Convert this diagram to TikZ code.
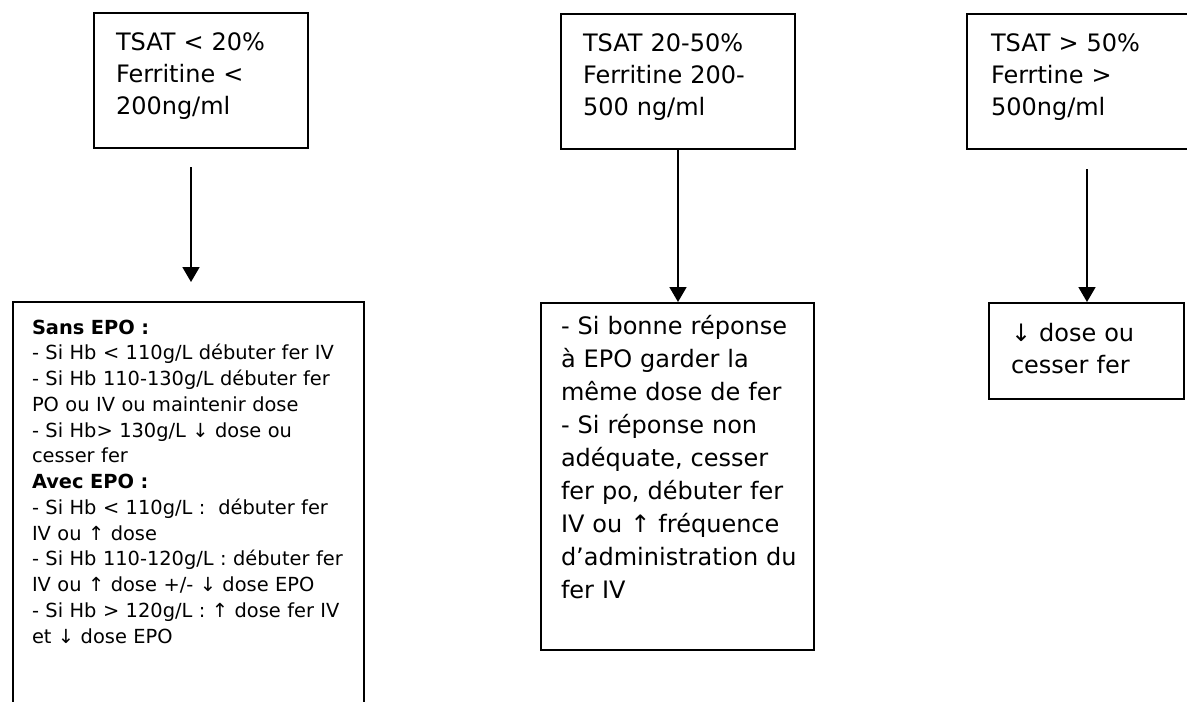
\documentclass[tikz,border=0pt]{standalone}
\usepackage{fontspec}
\setmainfont{DejaVu Sans}
\usetikzlibrary{arrows.meta,positioning}

\begin{document}
\begin{tikzpicture}[x=1pt, y=-1pt, >={Triangle[width=17pt,length=15pt]},
  box/.style={draw, line width=2pt, anchor=north west, inner ysep=0pt, align=left, font={\fontsize{24}{32}\selectfont\hyphenpenalty=10000\exhyphenpenalty=10000\relax}},
  link/.style={->, line width=1.8pt}]
  \useasboundingbox (0,0) rectangle (1187,702);
  % criteria
  \node[box, inner xsep=22pt, text width=170pt, text height=37pt, text depth=98pt] (lowcrit) at (93,12) {TSAT < 20\%\\Ferritine <\\200ng/ml};
  \node[box, inner xsep=22pt, text width=190pt, text height=37pt, text depth=98pt] (midcrit) at (560,13) {TSAT 20-50\%\\Ferritine 200-\\500 ng/ml};
  \node[box, inner xsep=24pt, text width=192pt, text height=37pt, text depth=98pt] (highcrit) at (966,13) {TSAT > 50\%\\Ferrtine >\\500ng/ml};
  % actions
  \node[box, inner xsep=19pt, text width=313pt, text height=32pt, text depth=387pt, font={\fontsize{19.4}{25.75}\selectfont\hyphenpenalty=10000\exhyphenpenalty=10000\relax}] (lowact) at (12,301) {\textbf{Sans EPO :}\\- Si Hb < 110g/L débuter~fer~IV\\- Si Hb 110-130g/L débuter~fer\\PO ou IV ou maintenir~dose\\- Si Hb> 130g/L ↓ dose~ou\\cesser fer\\\textbf{Avec EPO :}\\- Si Hb < 110g/L :\ \ débuter~fer\\IV ou ↑ dose\\- Si Hb 110-120g/L~:~débuter~fer\\IV ou ↑ dose +/- ↓ dose~EPO\\- Si Hb > 120g/L : ↑ dose~fer~IV\\et ↓ dose EPO};
  \node[box, inner xsep=20pt, text width=233pt, text height=31pt, text depth=316pt, font={\fontsize{24}{33}\selectfont\hyphenpenalty=10000\exhyphenpenalty=10000\relax}] (midact) at (540,302) {- Si bonne réponse\\à EPO garder la\\même dose de fer\\- Si réponse non\\adéquate, cesser\\fer po, débuter fer\\IV ou ↑ fréquence\\d’administration~du\\fer IV};
  \node[box, inner xsep=22pt, text width=151pt, text height=38pt, text depth=58pt] (highact) at (988,302) {↓ dose ou\\cesser fer};
  \draw[link, shorten <=18pt, shorten >=19pt] ([xshift=-10pt]lowcrit.south) -- ([xshift=-10pt]lowcrit.south |- lowact.north);
  \draw[link] (midcrit.south) -- (midcrit.south |- midact.north);
  \draw[link, shorten <=19pt] (highcrit.south) -- (highcrit.south |- highact.north);
\end{tikzpicture}
\end{document}
